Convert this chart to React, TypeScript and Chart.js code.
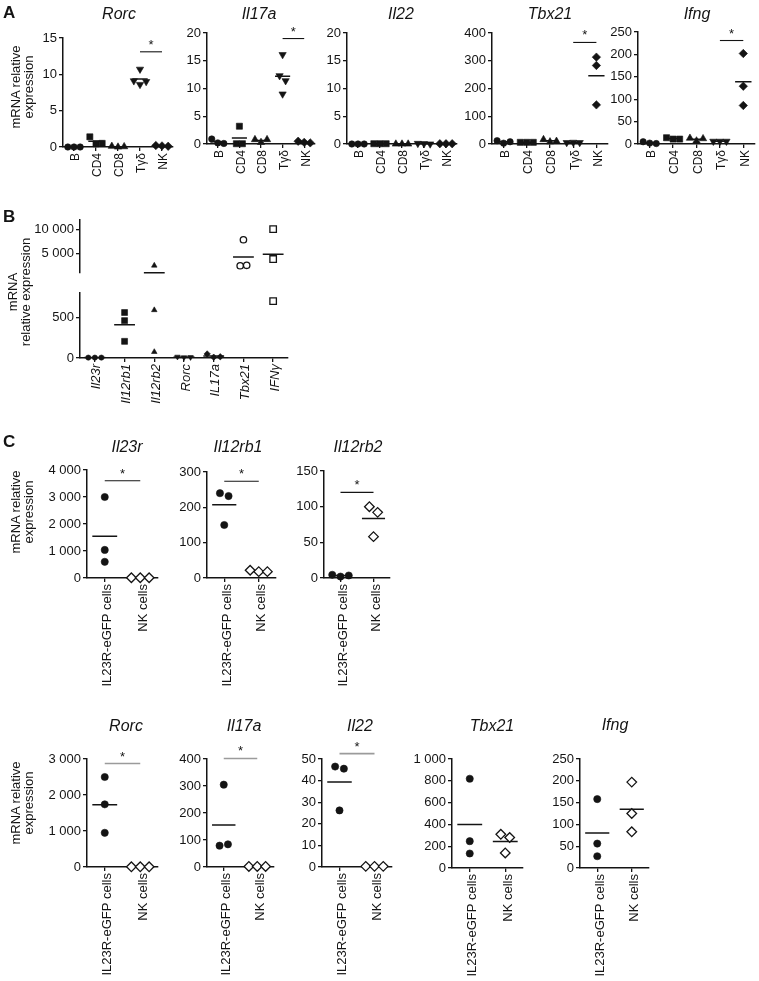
import React, { useEffect, useRef } from 'react';
import { Chart, registerables } from 'chart.js';

Chart.register(...registerables);

const FONT = '"Liberation Sans", Arial, Helvetica, sans-serif';
const INK = '#141414';
const GREY = '#9b9b9b';

// ================= DATA =================
// Panel A
const A_CATEGORIES = ['B', 'CD4', 'CD8', 'Tγδ', 'NK'];
const A_RORC = [[0, 0, 0], [1.4, 0.45, 0.5], [0.1, 0, 0.05], [10.7, 9.1, 8.6, 9.0], [0.2, 0.15, 0.1]];
const A_IL17A = [[0.9, 0.2, 0.1], [3.2, 0.05, 0.05], [0.8, 0.3, 0.8], [16.1, 12.3, 11.4, 9.0], [0.5, 0.3, 0.2]];
const A_IL22 = [[0, 0, 0], [0.05, 0.05, 0.05], [0, 0, 0], [0.1, 0.05, 0], [0.05, 0.05, 0.05]];
const A_TBX21 = [[12, 3, 8], [6, 6, 6], [16, 8, 10], [5, 6, 5], [313, 283, 141]];
const A_IFNG = [[5, 2, 1], [14, 11, 11], [13, 7, 12], [6, 6, 6], [202, 129, 86]];
const A_TICKS_RORC = [0, 5, 10, 15];
const A_TICKS_IL17A = [0, 5, 10, 15, 20];
const A_TICKS_IL22 = [0, 5, 10, 15, 20];
const A_TICKS_TBX21 = [0, 100, 200, 300, 400];
const A_TICKS_IFNG = [0, 50, 100, 150, 200, 250];
const A_SIG_RORC = { from: 3, to: 4, y: 13.1 };
const A_SIG_IL17A = { from: 3, to: 4, y: 19.0 };
const A_SIG_TBX21 = { from: 3, to: 4, y: 366 };
const A_SIG_IFNG = { from: 3, to: 4, y: 231 };

// Panel B
const B_CATEGORIES = ['Il23r', 'Il12rb1', 'Il12rb2', 'Rorc', 'IL17a', 'Tbx21', 'IFNγ'];
const B_VALUES = [[5, 5, 5], [560, 460, 205], [2550, 590, 75], [15, 8, 10], [50, 10, 15], [7900, 2500, 2600], [10100, 3900, 700]];
const B_TICKS_UPPER = [5000, 10000];
const B_TICKS_LOWER = [0, 500];
const B_BREAK_LOW = 800;
const B_BREAK_HIGH = 1000;
const B_TOP = 12000;

// Panel C
const C_CATEGORIES = ['IL23R-eGFP cells', 'NK cells'];
const C_IL23R = [[3000, 1040, 600], [10, 10, 10]];
const C_IL12RB1 = [[240, 232, 150], [22, 18, 18]];
const C_IL12RB2 = [[4.5, 2, 3.5], [100, 92, 58]];
const C_RORC = [[2500, 1740, 950], [5, 5, 5]];
const C_IL17A = [[305, 79, 84], [2, 2, 2]];
const C_IL22 = [[46.5, 45.5, 26.2], [0.3, 0.3, 0.3]];
const C_TBX21 = [[819, 246, 133], [309, 280, 138]];
const C_IFNG = [[158, 56, 27], [197, 125, 83]];
const C_TICKS_IL23R = [0, 1000, 2000, 3000, 4000];
const C_TICKS_IL12RB1 = [0, 100, 200, 300];
const C_TICKS_IL12RB2 = [0, 50, 100, 150];
const C_TICKS_RORC = [0, 1000, 2000, 3000];
const C_TICKS_IL17A = [0, 100, 200, 300, 400];
const C_TICKS_IL22 = [0, 10, 20, 30, 40, 50];
const C_TICKS_TBX21 = [0, 200, 400, 600, 800, 1000];
const C_TICKS_IFNG = [0, 50, 100, 150, 200, 250];
const C_SIG_IL23R = { from: 0, to: 1, y: 3600 };
const C_SIG_IL12RB1 = { from: 0, to: 1, y: 274 };
const C_SIG_IL12RB2 = { from: 0, to: 1, y: 120 };
const C_SIG_RORC = { from: 0, to: 1, y: 2875 };
const C_SIG_IL17A = { from: 0, to: 1, y: 402 };
const C_SIG_IL22 = { from: 0, to: 1, y: 52.5 };

// ================= STYLES =================
type Marker = { style: string; r: number; rot?: number; fill: boolean };
type Sig = { from: number; to: number; y: number };
type Pad = { l: number; t: number; r: number; b: number };
type Spec = {
  area: [number, number, number, number];
  pad: Pad;
  categories: string[];
  groups: number[][];
  markers: Marker[];
  yMin: number;
  yMax: number;
  yTicks: number[];
  showX: boolean;
  xFont: number;
  xItalic: boolean;
  xShift: number;
  yFont: number;
  jitter: number;
  sig?: Sig;
  sigColor?: string;
  keep?: (v: number) => boolean;
};

const circle = (r: number, fill = true): Marker => ({ style: 'circle', r, fill });
const square = (r: number, fill = true): Marker => ({ style: 'rect', r, fill });
const tri = (r: number): Marker => ({ style: 'triangle', r, fill: true });
const triDown = (r: number): Marker => ({ style: 'triangle', r, rot: 180, fill: true });
const diamond = (r: number, fill = true): Marker => ({ style: 'rectRot', r, fill });

const A_MARKERS = [circle(3.2), square(4.3), tri(4.2), triDown(4.2), diamond(4.2)];
const B_MARKERS = [circle(2.6), square(4.2), tri(3.2), triDown(3.2), diamond(3.2), circle(3.2, false), square(4.6, false)];
const C_MARKERS = [circle(3.6), diamond(4.8, false)];

const PAD_A: Pad = { l: 50, t: 26, r: 10, b: 42 };
const PAD_B_UP: Pad = { l: 60, t: 12, r: 12, b: 12 };
const PAD_B_LOW: Pad = { l: 60, t: 12, r: 12, b: 62 };
const PAD_C: Pad = { l: 60, t: 30, r: 12, b: 120 };

const aSpec = (area: [number, number, number, number], groups: number[][], yMax: number, yTicks: number[], sig?: Sig): Spec => ({
  area, pad: PAD_A, categories: A_CATEGORIES, groups, markers: A_MARKERS, yMin: 0, yMax, yTicks,
  showX: true, xFont: 12, xItalic: false, xShift: 2, yFont: 13, jitter: 0.28, sig,
});
const cSpec = (area: [number, number, number, number], groups: number[][], yMax: number, yTicks: number[], sig?: Sig, sigColor = INK): Spec => ({
  area, pad: PAD_C, categories: C_CATEGORIES, groups, markers: C_MARKERS, yMin: 0, yMax, yTicks,
  showX: true, xFont: 13, xItalic: false, xShift: 3, yFont: 13, jitter: 0.25, sig, sigColor,
});

const SPECS: Spec[] = [
  aSpec([63, 38, 173, 147], A_RORC, 15, A_TICKS_RORC, A_SIG_RORC),
  aSpec([207, 33, 315, 144], A_IL17A, 20, A_TICKS_IL17A, A_SIG_IL17A),
  aSpec([347, 33, 457, 144], A_IL22, 20, A_TICKS_IL22),
  aSpec([492, 33, 608, 144], A_TBX21, 400, A_TICKS_TBX21, A_SIG_TBX21),
  aSpec([638, 32, 755, 144], A_IFNG, 250, A_TICKS_IFNG, A_SIG_IFNG),
  {
    area: [80, 220, 288, 285], pad: PAD_B_UP, categories: B_CATEGORIES, groups: B_VALUES, markers: B_MARKERS,
    yMin: B_BREAK_HIGH, yMax: B_TOP, yTicks: B_TICKS_UPPER, showX: false, xFont: 13, xItalic: true, xShift: 2, yFont: 13,
    jitter: 0.22, keep: (v) => v > B_BREAK_LOW,
  },
  {
    area: [80, 293, 288, 358], pad: PAD_B_LOW, categories: B_CATEGORIES, groups: B_VALUES, markers: B_MARKERS,
    yMin: 0, yMax: B_BREAK_LOW, yTicks: B_TICKS_LOWER, showX: true, xFont: 13, xItalic: true, xShift: 2, yFont: 13,
    jitter: 0.22, keep: (v) => v <= B_BREAK_LOW,
  },
  cSpec([87, 470, 158, 578], C_IL23R, 4000, C_TICKS_IL23R, C_SIG_IL23R),
  cSpec([207, 472, 276, 578], C_IL12RB1, 300, C_TICKS_IL12RB1, C_SIG_IL12RB1),
  cSpec([324, 471, 390, 578], C_IL12RB2, 150, C_TICKS_IL12RB2, C_SIG_IL12RB2),
  cSpec([87, 759, 158, 867], C_RORC, 3000, C_TICKS_RORC, C_SIG_RORC, GREY),
  cSpec([207, 759, 274, 867], C_IL17A, 400, C_TICKS_IL17A, C_SIG_IL17A, GREY),
  cSpec([322, 759, 392, 867], C_IL22, 50, C_TICKS_IL22, C_SIG_IL22, GREY),
  cSpec([452, 759, 523, 868], C_TBX21, 1000, C_TICKS_TBX21),
  cSpec([580, 759, 649, 868], C_IFNG, 250, C_TICKS_IFNG),
];

type TextItem = { text: string; x: number; y: number; size: number; bold?: boolean; italic?: boolean; align?: 'left' | 'center' };
const TEXTS: TextItem[] = [
  { text: 'A', x: 3, y: 18, size: 17, bold: true, align: 'left' },
  { text: 'B', x: 3, y: 222, size: 17, bold: true, align: 'left' },
  { text: 'C', x: 3, y: 447, size: 17, bold: true, align: 'left' },
  { text: 'Rorc', x: 119, y: 20, size: 16, italic: true },
  { text: 'Il17a', x: 259, y: 20, size: 16, italic: true },
  { text: 'Il22', x: 401, y: 20, size: 16, italic: true },
  { text: 'Tbx21', x: 550, y: 20, size: 16, italic: true },
  { text: 'Ifng', x: 697, y: 20, size: 16, italic: true },
  { text: 'Il23r', x: 127, y: 453, size: 16, italic: true },
  { text: 'Il12rb1', x: 238, y: 453, size: 16, italic: true },
  { text: 'Il12rb2', x: 358, y: 453, size: 16, italic: true },
  { text: 'Rorc', x: 126, y: 732, size: 16, italic: true },
  { text: 'Il17a', x: 244, y: 732, size: 16, italic: true },
  { text: 'Il22', x: 360, y: 732, size: 16, italic: true },
  { text: 'Tbx21', x: 492, y: 732, size: 16, italic: true },
  { text: 'Ifng', x: 615, y: 731, size: 16, italic: true },
];

type YLabel = { lines: string[]; cx: number; cy: number };
const YLABELS: YLabel[] = [
  { lines: ['mRNA relative', 'expression'], cx: 21.5, cy: 87 },
  { lines: ['mRNA', 'relative expression'], cx: 18.5, cy: 292 },
  { lines: ['mRNA relative', 'expression'], cx: 21.5, cy: 512 },
  { lines: ['mRNA relative', 'expression'], cx: 21.5, cy: 803 },
];

// ================= HELPERS =================
const fmt = (v: number) => (Math.abs(v) >= 1000 ? String(v).replace(/\B(?=(\d{3})+(?!\d))/g, ' ') : String(v));

function jitterOffsets(vals: number[], pxPerUnit: number, markerPx: number, step: number): number[] {
  const order = vals.map((_, i) => i).sort((a, b) => vals[a] - vals[b]);
  const clusters: number[][] = [];
  for (const i of order) {
    const last = clusters[clusters.length - 1];
    if (last && Math.abs(vals[i] - vals[last[last.length - 1]]) * pxPerUnit < markerPx) last.push(i);
    else clusters.push([i]);
  }
  const off = vals.map(() => 0);
  for (const c of clusters) {
    const s = [...c].sort((a, b) => a - b);
    s.forEach((i, k) => {
      off[i] = (k - (s.length - 1) / 2) * step;
    });
  }
  return off;
}

const starPlugin = {
  id: 'sigStar',
  afterDatasetsDraw(chart: any, _args: any, opts: any) {
    const sig = opts && opts.sig;
    if (!sig) return;
    const ctx = chart.ctx;
    const x = chart.scales.x.getPixelForValue((sig.from + sig.to) / 2);
    const y = chart.scales.y.getPixelForValue(sig.y);
    ctx.save();
    ctx.fillStyle = INK;
    ctx.font = `13px ${FONT}`;
    ctx.textAlign = 'center';
    ctx.textBaseline = 'alphabetic';
    ctx.fillText('*', x, y - 3);
    ctx.restore();
  },
};

function buildConfig(spec: Spec): any {
  const [, t, , b] = spec.area;
  const P = spec.pad;
  const keep = spec.keep || (() => true);
  const pxPerUnit = (b - t) / (spec.yMax - spec.yMin);
  const datasets: any[] = [];

  spec.groups.forEach((vals, ci) => {
    const sub = vals.filter((v) => keep(v));
    const m = spec.markers[ci];
    const off = jitterOffsets(sub, pxPerUnit, m.r * 1.7, spec.jitter);
    datasets.push({
      data: sub.map((v, k) => ({ x: ci + off[k], y: v })),
      pointStyle: m.style,
      pointRadius: m.r,
      pointRotation: m.rot || 0,
      pointBackgroundColor: m.fill ? INK : '#ffffff',
      pointBorderColor: INK,
      pointBorderWidth: m.fill ? 0.6 : 1.3,
      showLine: false,
      clip: false,
    });
  });

  const meanData: any[] = [];
  spec.groups.forEach((vals, ci) => {
    const mean = vals.reduce((a, v) => a + v, 0) / vals.length;
    const inGap = mean > B_BREAK_LOW && mean < B_BREAK_HIGH && spec.yMin >= B_BREAK_HIGH;
    if (!keep(mean) && !inGap) return;
    meanData.push({ x: ci - 0.35, y: mean }, { x: ci + 0.35, y: mean }, { x: ci + 0.5, y: null });
  });
  datasets.push({
    data: meanData,
    showLine: true,
    spanGaps: false,
    borderColor: INK,
    borderWidth: 1.5,
    pointRadius: 0,
    clip: false,
  });

  if (spec.sig) {
    datasets.push({
      data: [{ x: spec.sig.from, y: spec.sig.y }, { x: spec.sig.to, y: spec.sig.y }],
      showLine: true,
      borderColor: spec.sigColor || INK,
      borderWidth: spec.sigColor === GREY ? 1.6 : 1.1,
      pointRadius: 0,
      clip: false,
    });
  }

  const cats = spec.categories;
  const axisGrid = { display: true, drawOnChartArea: false, drawTicks: true, tickLength: 4, color: INK, lineWidth: 1.3 };
  const axisBorder = { display: true, color: INK, width: 1.5 };

  return {
    type: 'scatter',
    data: { datasets },
    options: {
      responsive: false,
      animation: false,
      devicePixelRatio: 1,
      events: [],
      layout: { padding: { left: 0, top: P.t, right: P.r, bottom: spec.showX ? 0 : P.b } },
      plugins: {
        legend: { display: false },
        tooltip: { enabled: false },
        sigStar: { sig: spec.sig },
      },
      scales: {
        x: {
          type: 'linear',
          min: -0.5,
          max: cats.length - 0.5,
          display: spec.showX,
          afterBuildTicks: (s: any) => {
            s.ticks = cats.map((_, i) => ({ value: i }));
          },
          afterFit: (s: any) => {
            s.height = P.b;
          },
          ticks: {
            callback: (v: any) => cats[Math.round(v)] ?? '',
            minRotation: 90,
            maxRotation: 90,
            autoSkip: false,
            labelOffset: spec.xShift,
            color: INK,
            padding: 2,
            font: { family: FONT, size: spec.xFont, style: spec.xItalic ? 'italic' : 'normal' },
          },
          grid: axisGrid,
          border: axisBorder,
        },
        y: {
          type: 'linear',
          min: spec.yMin,
          max: spec.yMax,
          afterBuildTicks: (s: any) => {
            s.ticks = spec.yTicks.map((v) => ({ value: v }));
          },
          afterFit: (s: any) => {
            s.width = P.l;
          },
          ticks: {
            callback: (v: any) => fmt(Number(v)),
            color: INK,
            padding: 2,
            font: { family: FONT, size: spec.yFont },
          },
          grid: axisGrid,
          border: axisBorder,
        },
      },
    },
    plugins: [starPlugin],
  };
}

function Plot({ spec }: { spec: Spec }) {
  const ref = useRef<HTMLCanvasElement>(null);
  const [l, t, r, b] = spec.area;
  const P = spec.pad;
  const w = r - l + P.l + P.r;
  const h = b - t + P.t + P.b;
  useEffect(() => {
    const chart = new Chart(ref.current as HTMLCanvasElement, buildConfig(spec));
    return () => chart.destroy();
  }, []);
  return (
    <canvas
      ref={ref}
      width={w}
      height={h}
      style={{ position: 'absolute', left: l - P.l, top: t - P.t, width: w, height: h }}
    />
  );
}

function Text({ item }: { item: TextItem }) {
  const center = item.align !== 'left';
  return (
    <div
      style={{
        position: 'absolute',
        left: center ? item.x - 100 : item.x,
        width: center ? 200 : undefined,
        top: item.y - 0.846 * item.size,
        fontSize: item.size,
        lineHeight: `${item.size}px`,
        fontWeight: item.bold ? 700 : 400,
        fontStyle: item.italic ? 'italic' : 'normal',
        textAlign: center ? 'center' : 'left',
        whiteSpace: 'nowrap',
        color: INK,
        fontFamily: FONT,
      }}
    >
      {item.text}
    </div>
  );
}

function RotLabel({ lab }: { lab: YLabel }) {
  const W = 160;
  const LH = 13;
  const H = LH * lab.lines.length;
  return (
    <div
      style={{
        position: 'absolute',
        left: lab.cx - W / 2,
        top: lab.cy - H / 2,
        width: W,
        height: H,
        transform: 'rotate(-90deg)',
        textAlign: 'center',
        fontSize: 13,
        lineHeight: `${LH}px`,
        fontFamily: FONT,
        color: INK,
        whiteSpace: 'nowrap',
      }}
    >
      {lab.lines.map((s, i) => (
        <div key={i}>{s}</div>
      ))}
    </div>
  );
}

export default function App() {
  return (
    <div
      style={{
        position: 'absolute',
        left: 0,
        top: 0,
        width: 759,
        height: 981,
        overflow: 'hidden',
        background: '#ffffff',
        fontFamily: FONT,
      }}
    >
      {SPECS.map((s, i) => (
        <Plot key={i} spec={s} />
      ))}
      {TEXTS.map((t, i) => (
        <Text key={i} item={t} />
      ))}
      {YLABELS.map((lab, i) => (
        <RotLabel key={i} lab={lab} />
      ))}
    </div>
  );
}
